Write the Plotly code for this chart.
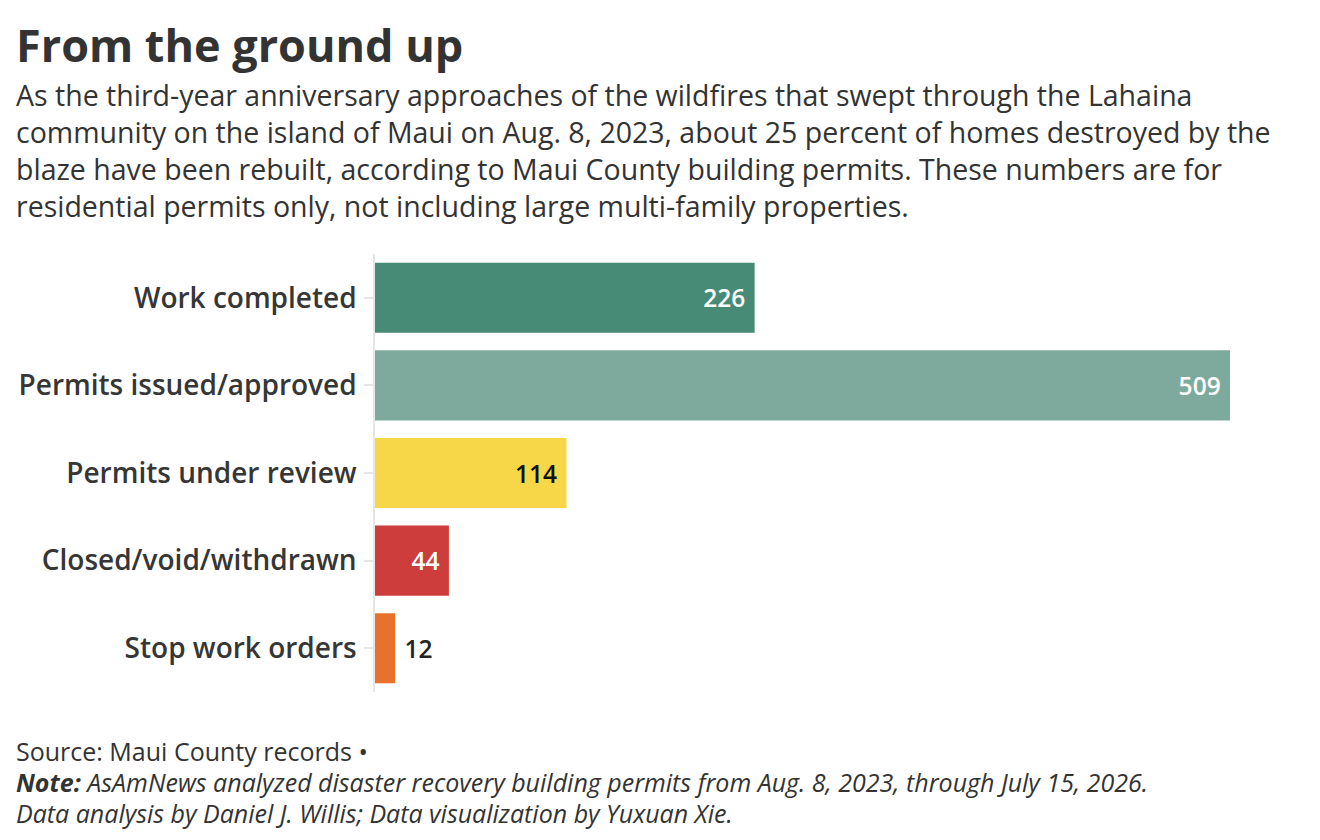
import plotly.graph_objects as go

# Maui County residential rebuild permits (Lahaina fire)
categories = ["Work completed", "Permits issued/approved", "Permits under review",
              "Closed/void/withdrawn", "Stop work orders"]
counts = [226, 509, 114, 44, 12]
bar_colors = ["#478a76", "#7eaa9e", "#f7d747", "#cc3d3b", "#e8712b"]
label_colors = ["white", "white", "#111111", "white", "#222222"]
label_positions = ["inside", "inside", "inside", "inside", "outside"]

title = "From the ground up"
subtitle_lines = [
    "As the third-year anniversary approaches of the wildfires that swept through the Lahaina",
    "community on the island of Maui on Aug. 8, 2023, about 25 percent of homes destroyed by the",
    "blaze have been rebuilt, according to Maui County building permits. These numbers are for",
    "residential permits only, not including large multi-family properties.",
]
footer_lines = [
    "Source: Maui County records •",
    "<b>Note:</b> AsAmNews analyzed disaster recovery building permits from Aug. 8, 2023, through July 15, 2026.",
    "Data analysis by Daniel J. Willis; Data visualization by Yuxuan Xie.",
]

# page body adds 8px around the figure
OFF = 8
W, H = 1320, 840
M_L, M_R, M_T, M_B = 375 - OFF, 90 + OFF, 254 - OFF, 148 + OFF
FONT = "'Open Sans', Lato, sans-serif"


def py(y_px):
    # pixel row on the page -> paper coords
    return (H - M_B - (y_px - OFF)) / (H - M_T - M_B)


def px(x_px):
    return ((x_px - OFF) - M_L) / (W - M_L - M_R)


def bar_text(v, pos):
    return f"{v}\u00a0" if pos == "inside" else f"\u00a0{v}"


fig = go.Figure(go.Bar(
    x=counts, y=categories, orientation="h",
    marker=dict(color=bar_colors, line=dict(width=0)),
    text=[bar_text(c, p) for c, p in zip(counts, label_positions)],
    textposition=label_positions,
    insidetextanchor="end", textangle=0, cliponaxis=False,
    textfont=dict(family=FONT, size=24.5, color=label_colors, weight=600),
    hoverinfo="skip",
))

fig.update_layout(
    width=W, height=H, margin=dict(l=M_L, r=M_R, t=M_T, b=M_B, pad=0),
    paper_bgcolor="white", plot_bgcolor="white", bargap=0.2, showlegend=False,
    font=dict(family=FONT, color="#333333"),
)
# 509 should land at x = 1230 on the page
fig.update_xaxes(range=[0, 509 * (W - M_L - M_R) / (1230 - 375)], visible=False,
                 showgrid=False, zeroline=False)
fig.update_yaxes(autorange="reversed", showline=True, linecolor="#e6e6e6", linewidth=1.5,
                 ticks="outside", ticklen=9, tickcolor="#e6e6e6", tickwidth=1.5, ticklabelstandoff=2,
                 tickfont=dict(family=FONT, size=28, color="#363636", weight=600),
                 showgrid=False, zeroline=False)

fig.add_annotation(text=f"<b>{title}</b>", x=px(14), y=py(44), xref="paper", yref="paper",
                   xanchor="left", yanchor="middle", showarrow=False, align="left",
                   font=dict(family=FONT, size=45, color="#333333"))
# one block so the lines don't collide
fig.add_annotation(text="<br>".join(subtitle_lines), x=px(14), y=py(150), xref="paper", yref="paper",
                   xanchor="left", yanchor="middle", showarrow=False, align="left",
                   font=dict(family=FONT, size=28.5, color="#333333"))
for i, line in enumerate(footer_lines):
    style = "" if i == 0 else "font-style:italic"
    fig.add_annotation(text=f"<span style='{style}'>{line}</span>" if style else line,
                       x=px(14), y=py(751 + i * 31), xref="paper", yref="paper",
                       xanchor="left", yanchor="middle", showarrow=False, align="left",
                       font=dict(family=FONT, size=25, color="#333333"))

fig.write_html("out.html")
